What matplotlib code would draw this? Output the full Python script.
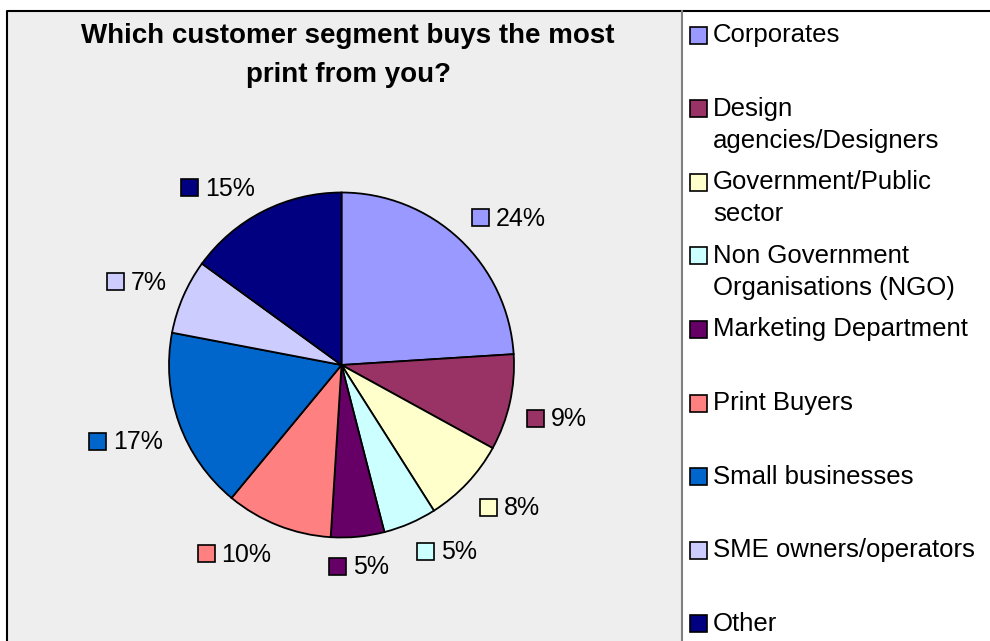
import numpy as np
import matplotlib.pyplot as plt
from matplotlib.patches import Rectangle

plt.rcParams['font.family'] = ['Liberation Sans', 'DejaVu Sans']

title = "Which customer segment buys the most\nprint from you?"
segments = ["Corporates", "Design\nagencies/Designers", "Government/Public\nsector",
            "Non Government\nOrganisations (NGO)", "Marketing Department", "Print Buyers",
            "Small businesses", "SME owners/operators", "Other"]
shares = [24, 9, 8, 5, 5, 10, 17, 7, 15]
colors = ["#9999FF", "#993366", "#FFFFCC", "#CCFFFF", "#660066", "#FF8080",
          "#0066CC", "#CCCCFF", "#000080"]

W, H = 990, 641
fig = plt.figure(figsize=(W / 100, H / 100), dpi=100)
ax = fig.add_axes([0, 0, 1, 1])


def Y(y):
    # image row -> data y (data units are pixels, y up)
    return H - y


# chart area background + borders
ax.add_patch(Rectangle((7, -5), 675, Y(11) + 5, facecolor='#EEEEEE', edgecolor='none', zorder=0))
ax.plot([7, 7, W + 5], [-5, Y(11), Y(11)], color='black', lw=1.5, zorder=1)
ax.plot([682, 682], [-5, Y(11)], color='#808080', lw=1.5, zorder=1)

cx, cy, R = 341.5, Y(365), 172.5
wedges, _ = ax.pie(shares, colors=colors, startangle=90, counterclock=False,
                   center=(cx, cy), radius=R, frame=True,
                   wedgeprops=dict(edgecolor='black', linewidth=1.3))
ax.set_xlim(0, W)
ax.set_ylim(0, H)
ax.set_aspect('equal')
ax.axis('off')

fig.canvas.draw()
renderer = fig.canvas.get_renderer()

# data labels with colour key
for w, v, c in zip(wedges, shares, colors):
    th = np.deg2rad((w.theta1 + w.theta2) / 2)
    px, py = cx + 190 * np.cos(th), cy + 190 * np.sin(th)
    t = ax.text(0, 0, f"{v}%", fontsize=18, va='baseline', ha='left', color='black')
    tw = t.get_window_extent(renderer).width
    gw = 17 + 7 + tw
    if np.cos(th) > 0.15:
        left = px
    elif np.cos(th) < -0.15:
        left = px - gw
    else:
        left = px - gw / 2
    if np.sin(th) > 0:
        base = py
        sq = py + 8.5
    else:
        base = py - 20
        sq = py - 12
    ax.add_patch(Rectangle((left, sq - 8.5), 17, 17, facecolor=c, edgecolor='black', lw=1.2, zorder=3))
    t.set_position((left + 24, base))

# title
for k, line in enumerate(title.split("\n")):
    ax.text(348, Y(43 + 39 * k), line, fontsize=20, fontweight='bold',
            ha='center', va='baseline')

# legend
for i, (lab, c) in enumerate(zip(segments, colors)):
    sy = 35 + 73.6 * i
    ax.add_patch(Rectangle((690, Y(sy) - 8.5), 17, 17, facecolor=c, edgecolor='black', lw=1.2, zorder=3))
    for k, line in enumerate(lab.split("\n")):
        ax.text(713, Y(sy + 7 + 32 * k), line, fontsize=18.5, ha='left', va='baseline')

plt.savefig("out.png", dpi=100)
